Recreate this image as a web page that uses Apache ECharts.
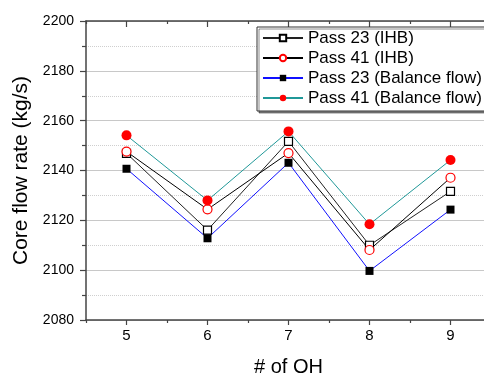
<!DOCTYPE html>
<html><head><meta charset="utf-8">
<script src="https://cdn.jsdelivr.net/npm/echarts@6/dist/echarts.min.js"></script>
<style>html,body{margin:0;padding:0;background:#fff}#c{width:484px;height:377px}</style>
</head><body><div id="c"></div>
<script>
var categories = ['5', '6', '7', '8', '9'];
var pass23IHB = [2146.9, 2116.1, 2151.7, 2110.0, 2131.6];
var pass41IHB = [2147.6, 2124.4, 2147.0, 2108.1, 2137.1];
var pass23Bal = [2140.7, 2112.8, 2143.1, 2099.7, 2124.3];
var pass41Bal = [2154.1, 2128.0, 2155.7, 2118.4, 2144.2];
var yMin = 2080, yMax = 2200, yStep = 20;

var font = '"Liberation Sans", Arial, sans-serif';
var axisCol = '#444';
function catAxis(pos, opts) {
  var a = {
    type: 'category', data: categories, position: pos, boundaryGap: true,
    axisLine: {show: false, lineStyle: {color: axisCol, width: 1.5}},
    axisLabel: {show: false},
    axisTick: {show: true, lineStyle: {color: axisCol, width: 1.2}},
    splitLine: {show: false}
  };
  for (var k in opts) a[k] = opts[k];
  return a;
}
var chart = echarts.init(document.getElementById('c'));
chart.setOption({
  animation: false,
  grid: {left: 86, right: -7, top: 21, bottom: 57, outerBoundsMode: 'none'},
  legend: {
    orient: 'vertical', left: 257, top: 27,
    padding: [1, 4, 3, 5], itemGap: 0, itemWidth: 40, itemHeight: 8,
    borderColor: '#333', borderWidth: 1,
    backgroundColor: '#fff',
    shadowColor: 'rgba(0,0,0,0.45)', shadowOffsetX: 2, shadowOffsetY: 2, shadowBlur: 0,
    textStyle: {fontFamily: font, fontSize: 17, color: '#000', lineHeight: 20},
    data: ['Pass 23 (IHB)', 'Pass 41 (IHB)', 'Pass 23 (Balance flow)', 'Pass 41 (Balance flow)']
  },
  xAxis: [
    catAxis('bottom', {
      name: '# of OH', nameLocation: 'middle', nameGap: 37,
      nameTextStyle: {fontFamily: font, fontSize: 20, color: '#000'},
      axisLine: {show: true, lineStyle: {color: axisCol, width: 1.5}},
      axisLabel: {show: true, fontFamily: font, fontSize: 15, color: '#000', margin: 8},
      axisTick: {show: true, alignWithLabel: true, length: 5, lineStyle: {color: axisCol, width: 1.2}}
    }),
    catAxis('bottom', {axisTick: {show: true, length: 3, lineStyle: {color: axisCol, width: 1.2}}}),
    catAxis('top', {
      axisLine: {show: true, lineStyle: {color: axisCol, width: 1.5}},
      axisTick: {show: true, inside: true, alignWithLabel: true, length: 6, lineStyle: {color: axisCol, width: 1.2}}
    }),
    catAxis('top', {axisTick: {show: true, inside: true, length: 3, lineStyle: {color: axisCol, width: 1.2}}})
  ],
  yAxis: {
    type: 'value', min: yMin, max: yMax, interval: yStep,
    name: 'Core flow rate (kg/s)', nameLocation: 'middle', nameGap: 52,
    nameTextStyle: {fontFamily: font, fontSize: 21, color: '#000'},
    axisLine: {show: true, lineStyle: {color: axisCol, width: 1.5}},
    axisTick: {show: true, length: 6, lineStyle: {color: axisCol, width: 1.2}},
    minorTick: {show: true, splitNumber: 2, length: 4, lineStyle: {color: axisCol, width: 1.2}},
    axisLabel: {fontFamily: font, fontSize: 14, color: '#000', margin: 12,
                formatter: function (v) { return String(v); }},
    splitLine: {show: true, lineStyle: {color: '#c8c8c8', width: 1}},
    minorSplitLine: {show: true, lineStyle: {color: '#cfcfcf', width: 1, type: [1, 1]}}
  },
  series: [
    {name: 'Pass 23 (IHB)', type: 'line', data: pass23IHB, symbol: 'rect', symbolSize: 8,
     lineStyle: {color: '#222', width: 1}, itemStyle: {color: '#fff', borderColor: '#000', borderWidth: 1.2}, z: 3},
    {name: 'Pass 41 (IHB)', type: 'line', data: pass41IHB, symbol: 'circle', symbolSize: 9,
     lineStyle: {color: '#000', width: 1}, itemStyle: {color: '#fff', borderColor: '#ff0000', borderWidth: 1.2}, z: 3},
    {name: 'Pass 23 (Balance flow)', type: 'line', data: pass23Bal, symbol: 'rect', symbolSize: 8,
     lineStyle: {color: '#1010ff', width: 1}, itemStyle: {color: '#000', borderColor: '#000', borderWidth: 0}, z: 3},
    {name: 'Pass 41 (Balance flow)', type: 'line', data: pass41Bal, symbol: 'circle', symbolSize: 10,
     lineStyle: {color: '#209898', width: 1}, itemStyle: {color: '#ff0000', borderColor: '#ff0000', borderWidth: 0}, z: 3}
  ]
});
</script></body></html>
